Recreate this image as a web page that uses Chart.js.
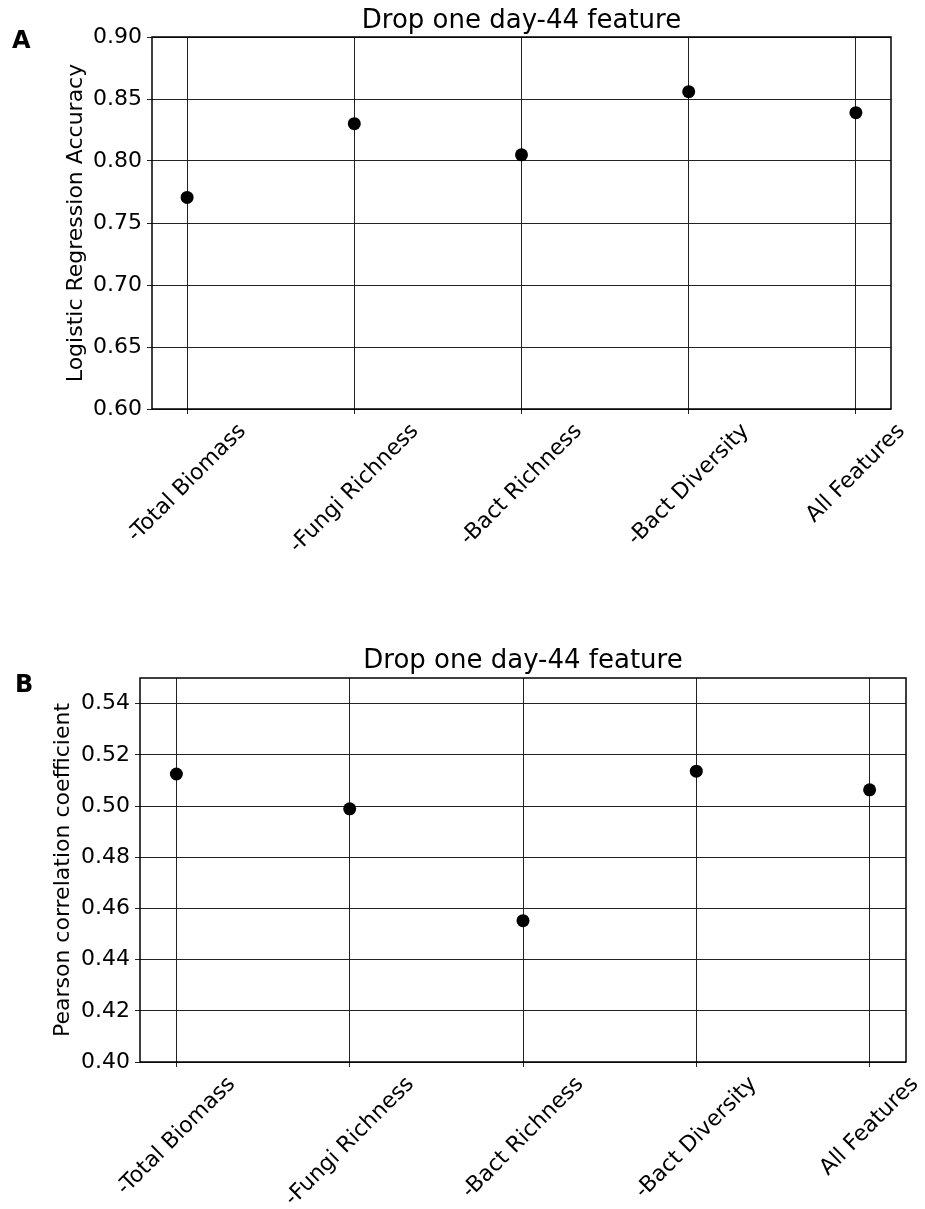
<!DOCTYPE html>
<html>
<head>
<meta charset="utf-8">
<script src="https://cdn.jsdelivr.net/npm/chart.js@4.4.1/dist/chart.umd.min.js"></script>
<style>
  body { margin: 0; background: #fff; }
  canvas { position: absolute; left: 0; }
  #chartA { top: 0; }
  #chartB { top: 600px; }
</style>
</head>
<body>
<canvas id="chartA" width="925" height="600"></canvas>
<canvas id="chartB" width="925" height="609"></canvas>
<script>
const features = ["-Total Biomass", "-Fungi Richness", "-Bact Richness", "-Bact Diversity", "All Features"];
const accuracy = [0.7706, 0.8301, 0.8050, 0.8559, 0.8390];
const pearson = [0.5125, 0.4989, 0.4552, 0.5136, 0.5063];
const accuracyTicks = [0.60, 0.65, 0.70, 0.75, 0.80, 0.85, 0.90];
const pearsonTicks = [0.40, 0.42, 0.44, 0.46, 0.48, 0.50, 0.52, 0.54];
const chartTitle = "Drop one day-44 feature";

const FONT = "'DejaVu Sans', sans-serif";
Chart.defaults.font.family = FONT;
Chart.defaults.color = "#000";

// title, panel letter, y label, centred 45deg x labels and the box
const decor = {
  id: "decor",
  afterDraw(chart, args, opts) {
    const ctx = chart.ctx;
    const a = chart.chartArea;
    const xs = chart.scales.x;
    ctx.save();
    ctx.fillStyle = "#000";

    ctx.strokeStyle = "#000";
    ctx.lineWidth = 1.5;
    ctx.strokeRect(a.left, a.top, a.right - a.left, a.bottom - a.top);

    ctx.font = "26px " + FONT;
    ctx.textAlign = "center";
    ctx.textBaseline = "alphabetic";
    ctx.fillText(chartTitle, (a.left + a.right) / 2, opts.titleY);

    ctx.font = "bold 24px " + FONT;
    ctx.textAlign = "left";
    ctx.fillText(opts.panel, opts.panelX, opts.panelY);

    ctx.font = "22px " + FONT;
    ctx.save();
    ctx.translate(opts.yTitleX, (a.top + a.bottom) / 2);
    ctx.rotate(-Math.PI / 2);
    ctx.textAlign = "center";
    ctx.fillText(opts.yTitle, 0, 0);
    ctx.restore();

    features.forEach((f, i) => {
      const w = ctx.measureText(f).width;
      const h = 22;
      const half = (w + h) / (2 * Math.SQRT2);
      ctx.save();
      ctx.translate(xs.getPixelForValue(i), a.bottom + 11 + half);
      ctx.rotate(-Math.PI / 4);
      ctx.textAlign = "center";
      ctx.textBaseline = "middle";
      ctx.fillText(f, 0, 0);
      ctx.restore();
    });
    ctx.restore();
  }
};

function makeChart(id, values, ticks, yMin, yMax, box, deco) {
  return new Chart(document.getElementById(id), {
    type: "scatter",
    data: {
      datasets: [{
        data: values.map((v, i) => ({ x: i, y: v })),
        pointRadius: 6.5,
        pointBackgroundColor: "#000",
        pointBorderWidth: 0,
        showLine: false
      }]
    },
    options: {
      responsive: false,
      animation: false,
      events: [],
      layout: { padding: { top: box.top, right: box.right, left: 0, bottom: 0 } },
      plugins: {
        legend: { display: false },
        tooltip: { enabled: false },
        decor: deco
      },
      scales: {
        x: {
          type: "linear",
          min: -0.21,
          max: 4.21,
          afterBuildTicks: s => { s.ticks = features.map((f, i) => ({ value: i })); },
          afterFit: s => { s.height = box.bottom; },
          grid: { color: "#222", lineWidth: 1, tickLength: 5 },
          border: { display: false },
          ticks: { display: false }
        },
        y: {
          min: yMin,
          max: yMax,
          afterBuildTicks: s => { s.ticks = ticks.map(v => ({ value: v })); },
          afterFit: s => { s.width = box.left; },
          grid: { color: "#222", lineWidth: 1, tickLength: 5 },
          border: { display: false },
          ticks: {
            padding: 5,
            font: { size: 22 },
            callback: v => v.toFixed(2)
          }
        }
      }
    },
    plugins: [decor]
  });
}

makeChart("chartA", accuracy, accuracyTicks, 0.60, 0.90,
  { top: 37, right: 34, left: 152, bottom: 191 },
  { panel: "A", panelX: 12, panelY: 48, titleY: 28, yTitle: "Logistic Regression Accuracy", yTitleX: 82 });

makeChart("chartB", pearson, pearsonTicks, 0.40, 0.55,
  { top: 78, right: 19, left: 140, bottom: 147 },
  { panel: "B", panelX: 15, panelY: 92, titleY: 68, yTitle: "Pearson correlation coefficient", yTitleX: 69 });
</script>
</body>
</html>
